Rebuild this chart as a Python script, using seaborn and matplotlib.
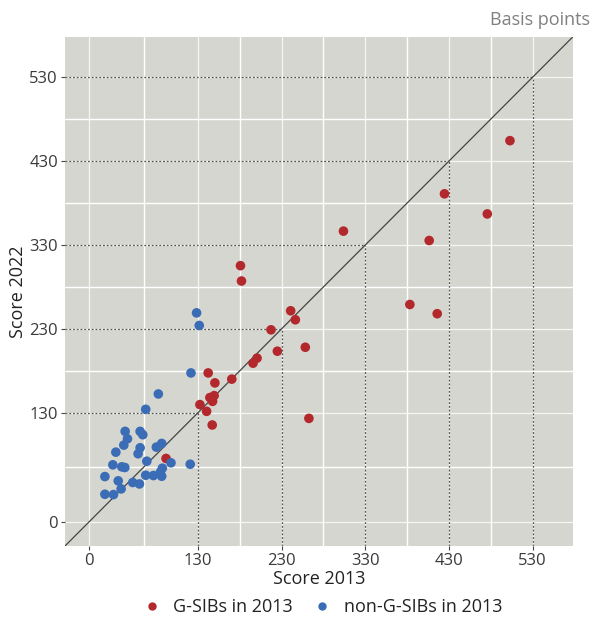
import numpy as np
import pandas as pd
import matplotlib
matplotlib.use("Agg")
import matplotlib.pyplot as plt
from matplotlib.lines import Line2D
import seaborn as sns

# ---- data ----
gsib_2013 = [180.8, 182.0, 240.8, 246.4, 217.3, 258.3, 224.9, 200.6, 195.8, 142.2,
             170.4, 150.2, 149.3, 144.2, 147.4, 132.3, 140.3, 147.0, 262.6, 303.9,
             406.4, 424.7, 475.9, 503.0, 383.3, 416.0, 91.8]
gsib_2022 = [305.3, 287.0, 251.5, 240.8, 228.8, 208.0, 203.3, 195.0, 189.0, 177.4,
             170.0, 165.5, 150.3, 148.0, 143.5, 139.6, 131.6, 115.3, 123.2, 346.5,
             335.3, 391.0, 367.0, 454.4, 259.0, 248.0, 75.4]
nongsib_2013 = [121.6, 82.6, 67.5, 42.9, 60.8, 64.0, 45.7, 41.3, 86.6, 80.2,
                60.8, 58.4, 31.8, 68.8, 97.7, 120.7, 28.2, 38.9, 42.5, 87.4,
                85.0, 18.7, 67.5, 76.7, 86.6, 34.6, 52.0, 60.0, 38.1, 18.7,
                29.0, 128.3, 131.5]
nongsib_2022 = [177.4, 152.3, 134.0, 107.7, 107.7, 103.7, 98.9, 91.3, 93.3, 88.9,
                88.1, 81.0, 82.9, 72.1, 70.2, 68.5, 67.8, 65.4, 64.6, 63.8,
                59.0, 53.8, 55.4, 55.0, 54.2, 48.7, 46.7, 45.0, 39.1, 32.7,
                32.3, 249.0, 234.0]
groups = ["G-SIBs in 2013", "non-G-SIBs in 2013"]
ticks = [0, 130, 230, 330, 430, 530]
minor_ticks = [65, 180, 280, 380, 480]
x_label = "Score 2013"
y_label = "Score 2022"
unit_note = "Basis points"

df = pd.DataFrame({
    "x": gsib_2013 + nongsib_2013,
    "y": gsib_2022 + nongsib_2022,
    "group": [groups[0]] * len(gsib_2013) + [groups[1]] * len(nongsib_2013),
})

# ---- style ----
sns.set_theme(style="whitegrid")
plt.rcParams["font.family"] = ["Open Sans", "DejaVu Sans"]

RED = "#b3282c"
BLUE = "#3a6db5"
BG = "#d6d6d0"
TXT = "#3a3a3a"

fig = plt.figure(figsize=(5.92, 6.22), dpi=100)
ax = fig.add_axes([0.1098, 0.1222, 0.9674 - 0.1098, 0.9405 - 0.1222])
ax.set_facecolor(BG)

lo, hi = -29, 578
ax.set_xlim(lo, hi)
ax.set_ylim(lo, hi)

# grid
ax.set_xticks(ticks)
ax.set_yticks(ticks)
ax.set_xticks(minor_ticks, minor=True)
ax.set_yticks(minor_ticks, minor=True)
ax.grid(True, which="major", color="white", linewidth=0.9, alpha=0.8)
ax.grid(True, which="minor", color="white", linewidth=1.0)
ax.set_axisbelow(True)
ax.tick_params(which="minor", length=0)
ax.tick_params(which="major", length=3, width=0.8, color="#444444",
               labelsize=12, labelcolor=TXT, pad=2, direction="out")
ax.xaxis.set_ticks_position("bottom")
ax.yaxis.set_ticks_position("left")
for s in ax.spines.values():
    s.set_visible(False)

# dotted guide lines
for t in ticks[1:]:
    ax.plot([lo, t], [t, t], linestyle=(0, (1.5, 1.5)), color="#555555", lw=0.9, zorder=1.5)
    ax.plot([t, t], [lo, t], linestyle=(0, (1.5, 1.5)), color="#555555", lw=0.9, zorder=1.5)

# 45-degree line
ax.axline((0, 0), slope=1, color="#444444", lw=0.9, zorder=1.6)

sns.scatterplot(data=df, x="x", y="y", hue="group", hue_order=groups,
                palette=[RED, BLUE], s=48, linewidth=0, ax=ax, zorder=3,
                legend=False)

ax.set_xlabel(x_label, fontsize=13, color="#222222", labelpad=1)
ax.set_ylabel(y_label, fontsize=13, color="#222222", labelpad=2)

fig.text(0.997, 0.968, unit_note, ha="right", va="center", fontsize=13, color="#808080")

# legend
handles = [Line2D([], [], marker="o", linestyle="", color=c, markersize=5) for c in (RED, BLUE)]
fig.legend(handles, groups, loc="center", bbox_to_anchor=(0.537, 0.024), ncol=2,
           frameon=False, fontsize=13, handletextpad=0.2, columnspacing=0.6,
           labelcolor="#222222")

fig.savefig("out.png", dpi=100)
